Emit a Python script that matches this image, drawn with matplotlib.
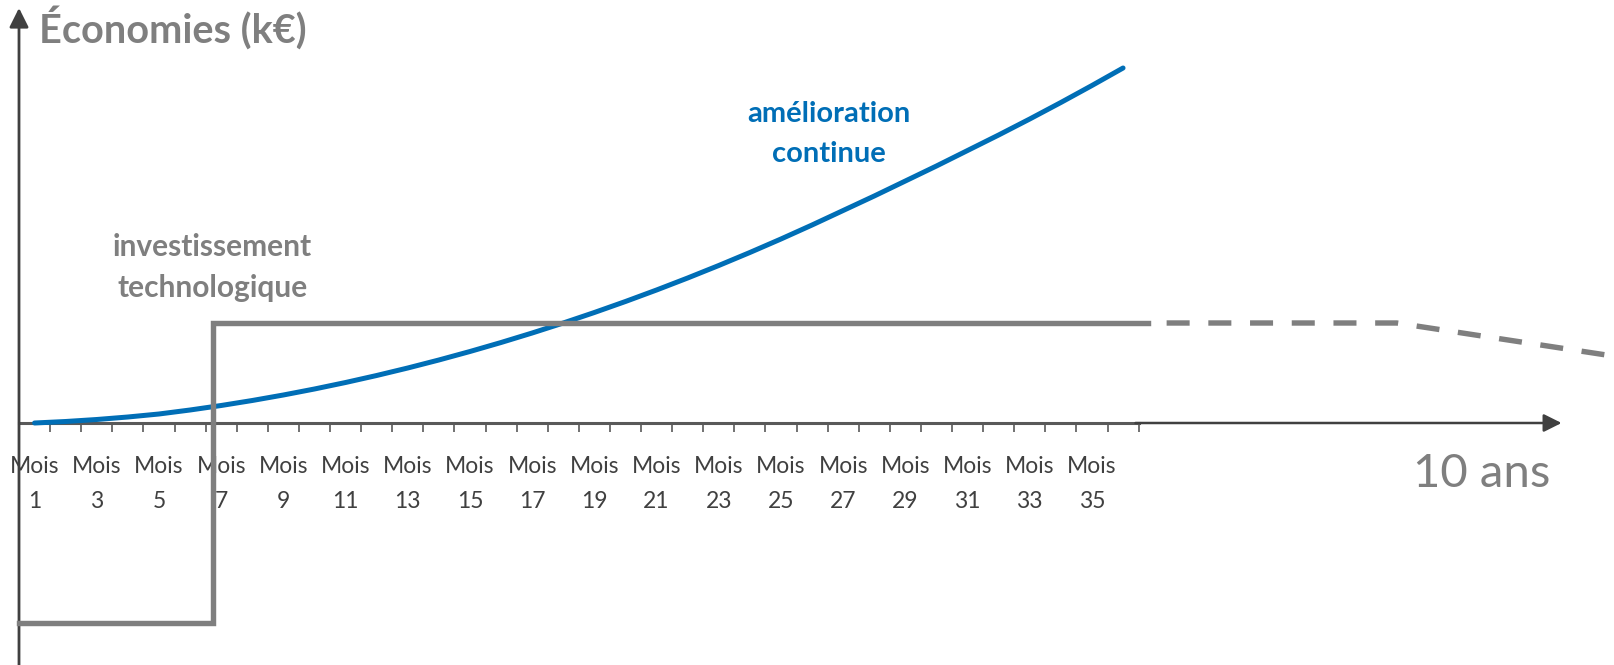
import numpy as np
import matplotlib.pyplot as plt

plt.rcParams['font.family'] = ['Lato', 'DejaVu Sans']

# month index (1..36) and savings of the continuous improvement curve (k€)
mois = np.arange(1, 37)
amelioration = [0, 1.5, 3.5, 6, 9, 13, 17.5, 22.5, 28, 34, 40.5, 47.5,
                55, 63, 71.5, 80.5, 90, 100, 110.5, 121.5, 133, 145, 157.5, 170.5,
                184, 198, 212.5, 227, 242, 257, 272.5, 288, 304, 320.5, 337.5, 355]

# technology investment: step down then flat, then dashed projection
invest_x = [0.5, 6.75, 6.75, 36.8]
invest_y = [-200, -200, 100, 100]
projection_x = [36.8, 44.8, 51.75]
projection_y = [100, 100, 67]

tick_mois = list(range(1, 36, 2))
tick_labels = ['Mois\n%d' % m for m in tick_mois]

GRAY = '#7f7f7f'
DARK = '#404040'
BLUE = '#006eb6'

fig = plt.figure(figsize=(16.14, 6.65), dpi=100)
ax = fig.add_axes([0, 0, 1, 1])
ax.set_xlim(-0.111, 51.786)
ax.set_ylim(-242, 423)

ax.plot(mois, amelioration, color=BLUE, lw=3.6, solid_capstyle='round',
        solid_joinstyle='round', zorder=3)
ax.plot(invest_x, invest_y, color=GRAY, lw=3.9, solid_joinstyle='miter', zorder=4)
ax.plot(projection_x, projection_y, color=GRAY, lw=3.9, linestyle=(4.25, (4.25, 3.45)),
        dash_capstyle='butt', zorder=4)

# axes
for s in ['top', 'right', 'left']:
    ax.spines[s].set_visible(False)
ax.spines['bottom'].set_position(('data', 0))
ax.spines['bottom'].set_bounds(0.5, 36.5)
ax.spines['bottom'].set_color('#595959')
ax.spines['bottom'].set_linewidth(2.2)
ax.set_yticks([])
ax.set_xticks(tick_mois, tick_labels)
ax.set_xticks(np.arange(0.5, 37, 1), minor=True)
ax.tick_params(axis='x', which='minor', length=6.5, width=1.2, color='#595959', direction='out')
ax.tick_params(axis='x', which='major', length=0, pad=24, labelsize=16.5, labelcolor=DARK)
for lab in ax.get_xticklabels():
    lab.set_linespacing(1.8)

ax.annotate('', xy=(50.1, 0), xytext=(36.4, 0),
            arrowprops=dict(arrowstyle='-|>', color=DARK, lw=1.8, mutation_scale=27,
                            shrinkA=0, shrinkB=0))
ax.annotate('', xy=(0.5, 415), xytext=(0.5, -242),
            arrowprops=dict(arrowstyle='-|>', color=DARK, lw=2.0, mutation_scale=29,
                            shrinkA=0, shrinkB=0))

# texts
ax.text(1.143, 380, 'Économies (k€)', fontsize=28.5, fontweight='bold', color=GRAY,
        ha='left', va='baseline')
ax.text(26.54, 289, 'amélioration\ncontinue', fontsize=21, fontweight='bold', color=BLUE,
        ha='center', va='center', linespacing=1.65)
ax.text(6.72, 155.5, 'investissement\ntechnologique', fontsize=21.5, fontweight='bold',
        color=GRAY, ha='center', va='center', linespacing=1.6)
ax.text(47.54, -64, '10 ans', fontsize=34, color=GRAY, ha='center', va='baseline')

plt.savefig('out.png', dpi=100)
